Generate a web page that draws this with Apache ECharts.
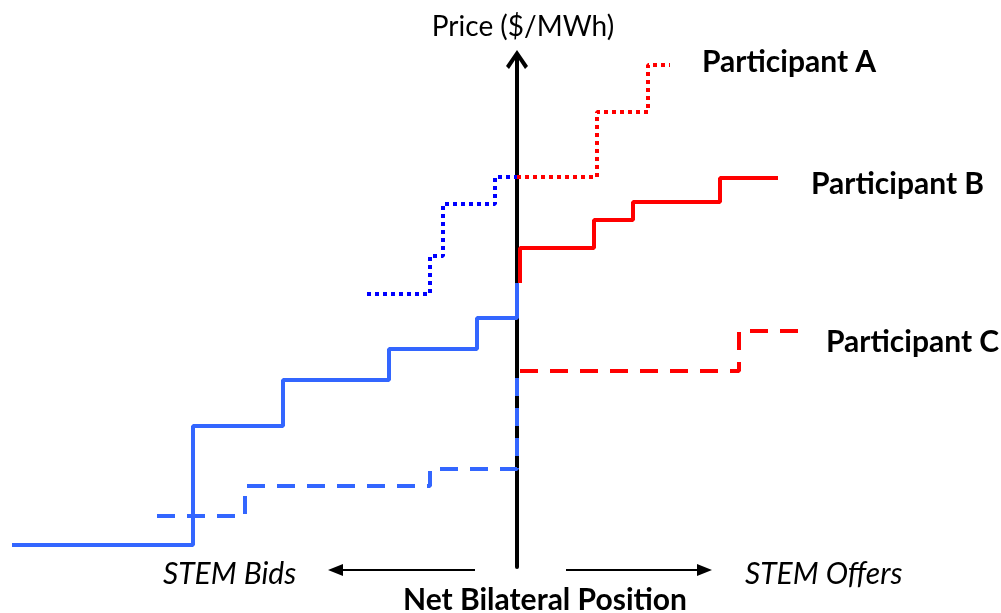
<!DOCTYPE html>
<html style="height: 100%; margin: 0; padding: 0;">
<head>
<meta charset="utf-8">
<title>STEM bids and offers</title>
<script src="https://cdn.jsdelivr.net/npm/echarts@6/dist/echarts.min.js"></script>
<style>
    body, html { height: 100%; margin: 0; padding: 0; background: #ffffff; }
    #main { width: 1001px; height: 613px; }
</style>
</head>
<body>
<div id="main"></div>
<script type="text/javascript">
// quantity = net bilateral position (bids < 0, offers > 0), price = $/MWh
// each point: the curve runs flat to this quantity, then steps to this price
var bidQtyA   = [-30, -17.4, -14.8, -4.4, 0];
var bidPriceA = [54.6, 62.2, 72.6, 78, 78];
var offQtyA   = [0, 16, 26.2, 30.6];
var offPriceA = [78, 91, 100.4, 100.4];

var bidQtyB   = [-101, -64.8, -46.8, -25.6, -8, 0];
var bidPriceB = [4.4, 28.2, 37.4, 43.6, 49.8, 56.8];
var offQtyB   = [0.6, 0.6, 15.4, 23.2, 40.6, 52.2];
var offPriceB = [56.8, 63.8, 69.4, 73, 77.8, 77.8];

var bidQtyC   = [-72, -54.4, -17.4, 0];
var bidPriceC = [10.2, 16.2, 19.6, 39.2];
var offQtyC   = [0.6, 44.4, 56.6];
var offPriceC = [39.2, 47.2, 47.2];

var labelA = 'Participant A', labelB = 'Participant B', labelC = 'Participant C';

function pairs(q, p) {
    return q.map(function (v, i) { return [v, p[i]]; });
}

function stepLine(name, q, p, color, dash) {
    return {
        name: name,
        type: 'line',
        step: 'end',
        showSymbol: false,
        silent: true,
        data: pairs(q, p),
        lineStyle: { color: color, width: 4, type: dash, cap: 'butt' }
    };
}

var myChart = echarts.init(document.getElementById('main'));

var font = 'Lato';
function label(text, x, y, opts) {
    opts = opts || {};
    return {
        type: 'text',
        x: x, y: y,
        style: {
            text: text,
            fill: '#000',
            fontFamily: font,
            fontSize: opts.size || 30,
            fontWeight: opts.weight || 'normal',
            fontStyle: opts.style || 'normal',
            align: opts.align || 'left',
            verticalAlign: 'middle'
        }
    };
}

function arrow(x1, x2, y) {
    var dir = x2 > x1 ? 1 : -1;
    return {
        type: 'group',
        children: [
            { type: 'line', shape: { x1: x1, y1: y, x2: x2 - dir * 12, y2: y },
              style: { stroke: '#000', lineWidth: 2 } },
            { type: 'polygon', shape: { points: [[x2, y], [x2 - dir * 15, y - 6], [x2 - dir * 15, y + 6]] },
              style: { fill: '#000' } }
        ]
    };
}

var option = {
    animation: false,
    backgroundColor: '#ffffff',
    grid: { left: 7, right: 84, top: 60, bottom: 46 },
    xAxis: {
        type: 'value', min: -102, max: 80,
        axisLine: { show: false }, axisTick: { show: false },
        axisLabel: { show: false }, splitLine: { show: false }
    },
    yAxis: {
        type: 'value', min: 0, max: 101.4,
        axisLine: {
            show: true, onZero: true,
            lineStyle: { color: '#000', width: 4 },
            symbol: ['none', 'path://M11,0 L22,16 L19,19 L11,7 L3,19 L0,16 Z M9,3 L13,3 L13,20 L9,20 Z'],
            symbolSize: [22, 20]
        },
        axisTick: { show: false }, axisLabel: { show: false }, splitLine: { show: false }
    },
    series: [
        stepLine('A bids', bidQtyA, bidPriceA, '#0000ff', [4, 4]),
        stepLine('A offers', offQtyA, offPriceA, '#ff0000', [4, 4]),
        stepLine('C bids', bidQtyC, bidPriceC, '#3366ff', [18, 12]),
        stepLine('C offers', offQtyC, offPriceC, '#ff0000', [18, 12]),
        stepLine('B bids', bidQtyB, bidPriceB, '#3366ff', 'solid'),
        stepLine('B offers', offQtyB, offPriceB, '#ff0000', 'solid')
    ],
    graphic: [
        label('Price ($/MWh)', 523, 27, { align: 'center', size: 28 }),
        label(labelA, 702, 62, { weight: 'bold' }),
        label(labelB, 811, 184, { weight: 'bold' }),
        label(labelC, 826, 342, { weight: 'bold' }),
        label('STEM Bids', 163, 574, { style: 'italic' }),
        label('STEM Offers', 745, 574, { style: 'italic' }),
        label('Net Bilateral Position', 545, 600, { weight: 'bold', align: 'center' }),
        arrow(475, 328, 570),
        arrow(566, 712, 570)
    ]
};

myChart.setOption(option);
</script>
</body>
</html>
